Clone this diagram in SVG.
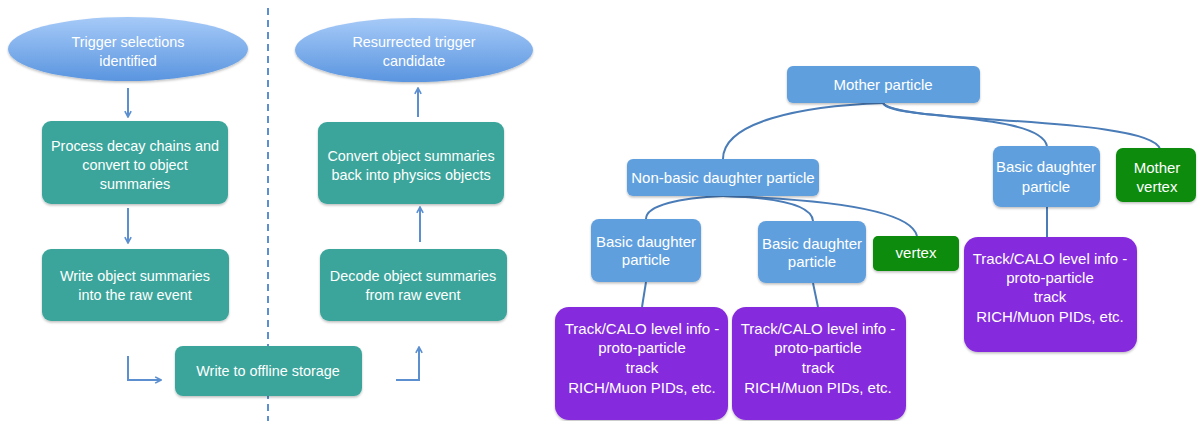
<svg xmlns="http://www.w3.org/2000/svg" width="1198" height="421" viewBox="0 0 1198 421">
<style>
text{font-family:"Liberation Sans",Arial,sans-serif;fill:#ffffff;text-anchor:middle}
.l{font-size:14.4px}
.r{font-size:15px}
.teal{fill:#3ba59b}
.lb{fill:#619fdd}
.gr{fill:#078b07}
.pu{fill:#8529dd}
.arr{fill:none;stroke:#5b8fd0;stroke-width:2}
.con{fill:none;stroke:#4a7cb8;stroke-width:2}
</style>
<defs>
<linearGradient id="eg" x1="0" y1="0" x2="0" y2="1">
<stop offset="0" stop-color="#a6caf8"/>
<stop offset="1" stop-color="#5a95df"/>
</linearGradient>
<marker id="ah" viewBox="0 0 10 10" refX="8.5" refY="5" markerWidth="9" markerHeight="9" orient="auto" markerUnits="userSpaceOnUse">
<path d="M2,1.5 L8.5,5 L2,8.5" fill="none" stroke="#5b8fd0" stroke-width="1.8"/>
</marker>
<filter id="sh" x="-10%" y="-10%" width="120%" height="130%">
<feDropShadow dx="0" dy="1.5" stdDeviation="1.2" flood-color="#000" flood-opacity="0.25"/>
</filter>
</defs>
<rect width="1198" height="421" fill="#ffffff"/>
<line x1="268" y1="8" x2="268" y2="421" stroke="#5b8fd0" stroke-width="2" stroke-dasharray="7,5"/>
<g id="connectors">
<path class="arr" d="M128 88 V117" marker-end="url(#ah)"/>
<path class="arr" d="M128 208 V243" marker-end="url(#ah)"/>
<path class="arr" d="M128 356 V380 H161" marker-end="url(#ah)"/>
<path class="arr" d="M396 380 H419 V347" marker-end="url(#ah)"/>
<path class="arr" d="M420 242 V207" marker-end="url(#ah)"/>
<path class="arr" d="M418 117 V88" marker-end="url(#ah)"/>
<path class="con" d="M883 103 C800 106 723 122 723 159"/>
<path class="con" d="M883 103 C890 120 1040 112 1047 146"/>
<path class="con" d="M883 103 C895 124 1150 116 1160 149"/>
<path class="con" d="M723 196 C680 198 646 205 646 219"/>
<path class="con" d="M723 196 C790 198 812 208 813 221"/>
<path class="con" d="M723 196 C850 200 912 214 917 236"/>
<path class="con" d="M646 282 L642 307"/>
<path class="con" d="M813 283 L818 307"/>
<path class="con" d="M1047 207 L1047 237"/>
</g>
<g id="trigger-selections">
<ellipse cx="128" cy="49" rx="120" ry="32" fill="url(#eg)" filter="url(#sh)"/>
<text class="l" x="128" y="47">Trigger selections</text>
<text class="l" x="128" y="66">identified</text>
</g>
<g id="process-decay">
<rect class="teal" x="42" y="121" width="186" height="83" rx="9" filter="url(#sh)"/>
<text class="l" x="135" y="151">Process decay chains and</text>
<text class="l" x="135" y="170">convert to object</text>
<text class="l" x="135" y="189">summaries</text>
</g>
<g id="write-object">
<rect class="teal" x="42" y="249" width="187" height="72" rx="9" filter="url(#sh)"/>
<text class="l" x="135" y="281">Write object summaries</text>
<text class="l" x="135" y="300">into the raw event</text>
</g>
<g id="write-offline">
<rect class="teal" x="175" y="346" width="187" height="50" rx="8" filter="url(#sh)"/>
<text class="l" x="268" y="376">Write to offline storage</text>
</g>
<g id="decode">
<rect class="teal" x="320" y="249" width="187" height="72" rx="9" filter="url(#sh)"/>
<text class="l" x="413" y="281">Decode object summaries</text>
<text class="l" x="413" y="300">from raw event</text>
</g>
<g id="convert">
<rect class="teal" x="318" y="122" width="186" height="82" rx="9" filter="url(#sh)"/>
<text class="l" x="411" y="161">Convert object summaries</text>
<text class="l" x="411" y="180">back into physics objects</text>
</g>
<g id="resurrected">
<ellipse cx="414" cy="50" rx="119" ry="32" fill="url(#eg)" filter="url(#sh)"/>
<text class="l" x="414" y="47">Resurrected trigger</text>
<text class="l" x="414" y="66">candidate</text>
</g>
<g id="mother-particle">
<rect class="lb" x="787" y="66" width="193" height="37" rx="6" filter="url(#sh)"/>
<text class="r" x="883" y="90">Mother particle</text>
</g>
<g id="non-basic">
<rect class="lb" x="627" y="159" width="192" height="37" rx="6" filter="url(#sh)"/>
<text class="r" x="723" y="183">Non-basic daughter particle</text>
</g>
<g id="basic-1">
<rect class="lb" x="591" y="219" width="110" height="63" rx="8" filter="url(#sh)"/>
<text class="r" x="646" y="247">Basic daughter</text>
<text class="r" x="646" y="265">particle</text>
</g>
<g id="basic-2">
<rect class="lb" x="758" y="221" width="108" height="62" rx="8" filter="url(#sh)"/>
<text class="r" x="812" y="249">Basic daughter</text>
<text class="r" x="812" y="267">particle</text>
</g>
<g id="vertex">
<rect class="gr" x="873" y="236" width="86" height="35" rx="5" filter="url(#sh)"/>
<text class="r" x="916" y="258">vertex</text>
</g>
<g id="basic-3">
<rect class="lb" x="993" y="146" width="107" height="61" rx="8" filter="url(#sh)"/>
<text class="r" x="1046" y="172">Basic daughter</text>
<text class="r" x="1046" y="192">particle</text>
</g>
<g id="mother-vertex">
<rect class="gr" x="1116" y="148" width="80" height="54" rx="7" filter="url(#sh)"/>
<text class="r" x="1157" y="173">Mother</text>
<text class="r" x="1157" y="192">vertex</text>
</g>
<g id="track-1">
<rect class="pu" x="555" y="307" width="173" height="113" rx="14" filter="url(#sh)"/>
<text class="r" x="642" y="334">Track/CALO level info -</text>
<text class="r" x="642" y="353">proto-particle</text>
<text class="r" x="642" y="373">track</text>
<text class="r" x="642" y="393">RICH/Muon PIDs, etc.</text>
</g>
<g id="track-2">
<rect class="pu" x="732" y="307" width="174" height="113" rx="14" filter="url(#sh)"/>
<text class="r" x="818" y="334">Track/CALO level info -</text>
<text class="r" x="818" y="353">proto-particle</text>
<text class="r" x="818" y="373">track</text>
<text class="r" x="818" y="393">RICH/Muon PIDs, etc.</text>
</g>
<g id="track-3">
<rect class="pu" x="964" y="237" width="173" height="115" rx="14" filter="url(#sh)"/>
<text class="r" x="1050" y="264">Track/CALO level info -</text>
<text class="r" x="1050" y="283">proto-particle</text>
<text class="r" x="1050" y="302">track</text>
<text class="r" x="1050" y="322">RICH/Muon PIDs, etc.</text>
</g>
</svg>
